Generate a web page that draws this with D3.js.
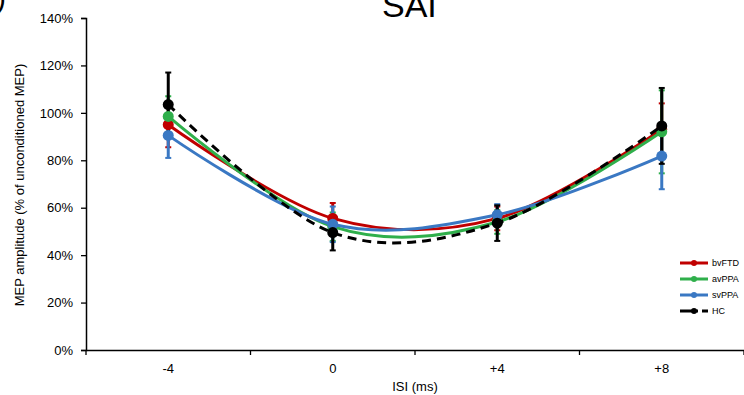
<!DOCTYPE html>
<html>
<head>
<meta charset="utf-8">
<script src="https://cdn.jsdelivr.net/npm/d3@7"></script>
<style>
  body { margin: 0; background: #fff; }
  svg { display: block; font-family: "Liberation Sans", Arial, sans-serif; }
</style>
</head>
<body>
<script>
// data
const isi = ["-4", "0", "+4", "+8"];
const groups = ["bvFTD", "avPPA", "svPPA", "HC"];
const colors = ["#C00000", "#2FAF4B", "#3A78C3", "#000000"];
const bvFTD = [95, 55.5, 55.5, 93];
const avPPA = [98.5, 52, 54, 92];
const svPPA = [90.5, 53, 57, 81.8];
const HC = [103.5, 49.5, 53.5, 94.5];
const bvFTDErr = [9.5, 6.5, 5, 11];
const avPPAErr = [8.5, 6, 5, 17.5];
const svPPAErr = [9.5, 7.5, 4.5, 14];
const HCErr = [13.5, 7.5, 7.5, 16];
const yTicks = [0, 20, 40, 60, 80, 100, 120, 140];

const series = [
  {name: "bvFTD", values: bvFTD, err: bvFTDErr},
  {name: "avPPA", values: avPPA, err: avPPAErr},
  {name: "svPPA", values: svPPA, err: svPPAErr},
  {name: "HC", values: HC, err: HCErr, dashed: true}
];

const W = 744, H = 395;
const svg = d3.select("body").append("svg").attr("width", W).attr("height", H);

const x = d3.scaleBand().domain(isi).range([86, 744]);
const y = d3.scaleLinear().domain([0, 140]).range([350, 18]);
const color = d3.scaleOrdinal().domain(groups).range(colors);
const cx = d => x(d) + x.bandwidth() / 2;

// axes
const yAxis = svg.append("g").attr("transform", "translate(86,0)")
  .call(d3.axisLeft(y).tickValues(yTicks).tickFormat(d => d + "%").tickSize(5).tickPadding(8));
const xAxis = svg.append("g").attr("transform", "translate(0,350)")
  .call(d3.axisBottom(x).tickSize(0).tickPadding(14));
[yAxis, xAxis].forEach(a => {
  a.select(".domain").attr("stroke", "#000").attr("stroke-width", 1.5);
  a.selectAll("text").attr("font-size", 13).attr("fill", "#000")
    .attr("font-family", "'Liberation Sans', Arial, sans-serif");
});
yAxis.selectAll(".tick line").attr("stroke-width", 1.3);
// category boundary ticks
xAxis.selectAll(".bound").data(x.domain().map(d => x(d)).concat([x.range()[1]]))
  .join("line").attr("class", "bound")
  .attr("x1", d => d).attr("x2", d => d).attr("y1", 0).attr("y2", 5)
  .attr("stroke", "#000").attr("stroke-width", 1.3);

// labels
svg.append("text").attr("x", 382).attr("y", 17).attr("font-size", 34).text("SAI");
svg.append("text").attr("x", 6).attr("y", 8).attr("text-anchor", "end")
  .attr("font-size", 30).text("D)");
svg.append("text").attr("transform", "translate(24,185) rotate(-90)")
  .attr("text-anchor", "middle").attr("font-size", 13)
  .text("MEP amplitude (% of unconditioned MEP)");
svg.append("text").attr("x", 415).attr("y", 391).attr("text-anchor", "middle")
  .attr("font-size", 13).text("ISI (ms)");

const line = d3.line().curve(d3.curveCardinal.tension(0))
  .x((d, i) => cx(isi[i])).y(d => y(d));

// error bars
series.forEach(s => {
  const g = svg.append("g").attr("stroke", color(s.name)).attr("stroke-width", 3);
  s.values.forEach((v, i) => {
    const px = cx(isi[i]);
    g.append("line").attr("x1", px).attr("x2", px)
      .attr("y1", y(v - s.err[i])).attr("y2", y(v + s.err[i]));
    [v - s.err[i], v + s.err[i]].forEach(e => {
      g.append("line").attr("x1", px - 3).attr("x2", px + 3)
        .attr("y1", y(e)).attr("y2", y(e)).attr("stroke-width", 2);
    });
  });
});

// lines and markers
series.forEach(s => {
  svg.append("path").datum(s.values).attr("d", line)
    .attr("fill", "none").attr("stroke", color(s.name)).attr("stroke-width", 3)
    .attr("stroke-dasharray", s.dashed ? "9,6" : null);
  svg.append("g").selectAll("circle").data(s.values).join("circle")
    .attr("cx", (d, i) => cx(isi[i])).attr("cy", d => y(d)).attr("r", 5.5)
    .attr("fill", color(s.name));
});

// legend
const legend = svg.append("g").selectAll("g").data(series).join("g")
  .attr("transform", (d, i) => `translate(680,${263 + i * 16})`);
legend.append("line").attr("x1", 0).attr("x2", 28).attr("y1", 0).attr("y2", 0)
  .attr("stroke", d => color(d.name)).attr("stroke-width", 3)
  .attr("stroke-dasharray", d => d.dashed ? "18,4,6" : null);
legend.append("circle").attr("cx", 14).attr("cy", 0).attr("r", 3)
  .attr("fill", d => color(d.name));
legend.append("text").attr("x", 32).attr("y", 3).attr("font-size", 9)
  .text(d => d.name);
</script>
</body>
</html>
